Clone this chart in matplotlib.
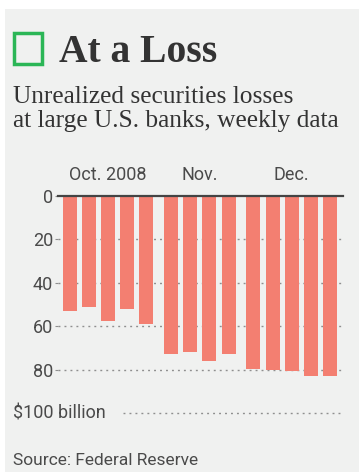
import matplotlib
matplotlib.use('Agg')
import matplotlib.pyplot as plt
from matplotlib.patches import Rectangle
import numpy as np

# Unrealized securities losses, $ billion, one bar per week
OCT_LOSSES = [53.2, 51.0, 57.6, 52.2, 59.1]
NOV_LOSSES = [72.9, 72.1, 76.2, 72.6]
DEC_LOSSES = [79.8, 80.2, 80.8, 83.1, 82.8]
MONTH_LABELS = ['Oct. 2008', 'Nov.', 'Dec.']
Y_TICKS = [0, 20, 40, 60, 80]

W, H = 359, 472
BG = '#f0f1f0'
BAR = '#f37f71'
TEXT = '#333333'
TICK = '#4a4a4a'
GRID = '#8f8f8f'
DOTS = (0, (1.4, 2.9))
SANS = ['Roboto', 'DejaVu Sans']
SERIF = ['Liberation Serif', 'DejaVu Serif']


def fx(x):
    return x / W


def fy(y):
    return 1 - y / H


fig = plt.figure(figsize=(W / 100, H / 100), dpi=100, facecolor='white')

# grey panel behind everything
fig.add_artist(Rectangle((fx(5), 0), 1 - fx(5), fy(9), transform=fig.transFigure,
                         facecolor=BG, edgecolor='none', zorder=0))

# green box next to the headline
fig.add_artist(Rectangle((fx(14), fy(63.5)), fx(41.5) - fx(14), fy(33) - fy(63.5),
                         transform=fig.transFigure, facecolor='none',
                         edgecolor='#2bb656', lw=2.5, zorder=2))
fig.text(fx(59), fy(62), 'At a Loss', family=SERIF, weight='bold', fontsize=28.5,
         color='#333333', ha='left', va='baseline')
fig.text(fx(13), fy(103), 'Unrealized securities losses', family=SERIF, fontsize=18.3,
         color=TEXT, ha='left', va='baseline')
fig.text(fx(13), fy(127), 'at large U.S. banks, weekly data', family=SERIF, fontsize=18.3,
         color=TEXT, ha='left', va='baseline')

# chart area: zero line at the top, $100 billion at the bottom
ax = fig.add_axes([fx(58), fy(413), fx(343) - fx(58), fy(196) - fy(413)])
ax.set_facecolor('none')

groups = [OCT_LOSSES, NOV_LOSSES, DEC_LOSSES]
xs, vals, centers = [], [], []
i = 0
for g, losses in enumerate(groups):
    pos = [i + k + 0.3 * g for k in range(len(losses))]
    xs += pos
    vals += losses
    centers.append((pos[0] + pos[-1]) / 2)
    i += len(losses)

ax.bar(xs, vals, width=0.73, color=BAR, zorder=2)

ax.set_xlim(-0.61, 14.28)
ax.set_ylim(100, 0)

for v in Y_TICKS[1:]:
    ax.axhline(v, color=GRID, lw=1, ls=DOTS, zorder=1)
ax.axhline(100, xmin=(123 - 58) / 285, color=GRID, lw=1, ls=DOTS, zorder=1,
           clip_on=False)
ax.axhline(0, color='#444444', lw=1.6, zorder=3, clip_on=False)

ax.set_yticks(Y_TICKS)
ax.set_yticklabels([str(v) for v in Y_TICKS], family=SANS, fontsize=13, color=TICK)
ax.tick_params(axis='y', length=2.5, width=0.8, color=GRID, pad=1)

ax.xaxis.tick_top()
ax.set_xticks(centers)
ax.set_xticklabels(MONTH_LABELS, family=SANS, fontsize=13, color=TICK)
ax.tick_params(axis='x', length=0, pad=9)

for s in ax.spines.values():
    s.set_visible(False)

fig.text(fx(13), fy(418), '$100 billion', family=SANS, fontsize=13, color=TICK,
         ha='left', va='baseline')
fig.text(fx(13), fy(465), 'Source: Federal Reserve', family=SANS, fontsize=12.5,
         color=TICK, ha='left', va='baseline')

fig.savefig('out.png', dpi=100, facecolor='white')
